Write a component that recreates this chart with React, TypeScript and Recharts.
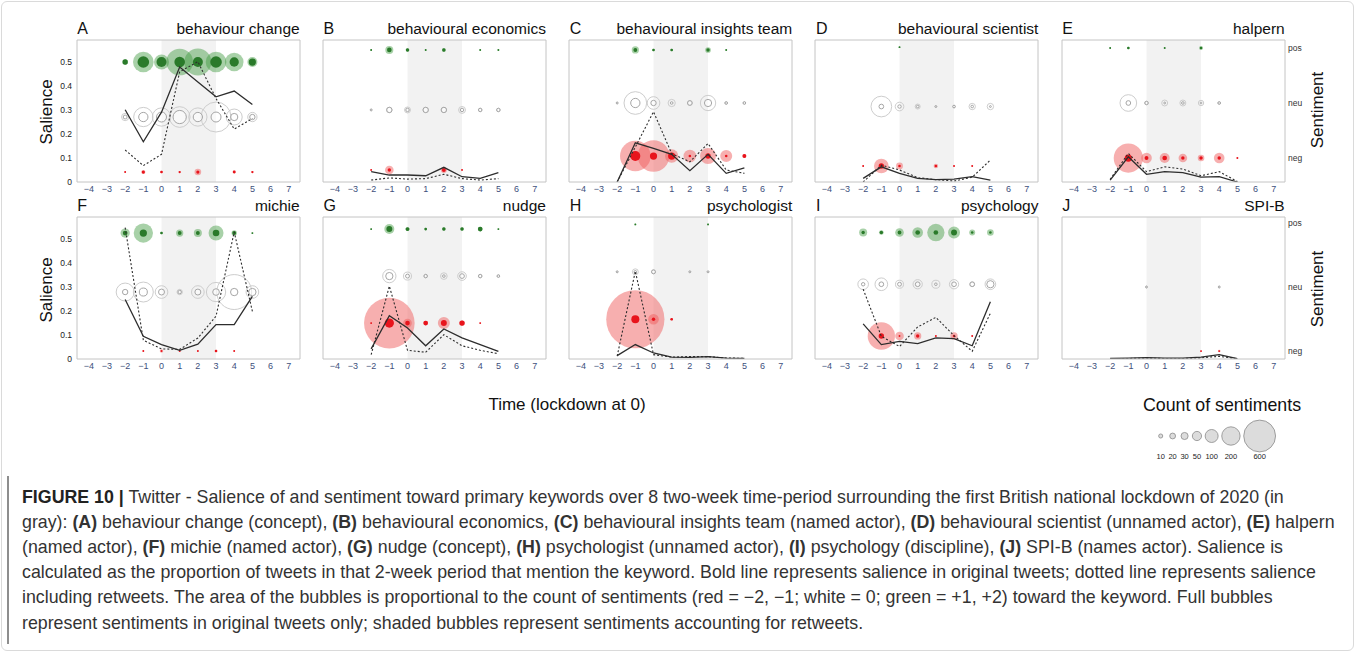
import React from "react";
import { ComposedChart, Line, Scatter, XAxis, YAxis, ZAxis, ReferenceArea } from "recharts";

const FONT = '"Liberation Sans", Arial, Helvetica, sans-serif';

// two-week periods around the lockdown (0 = lockdown)
const periods = [-2, -1, 0, 1, 2, 3, 4, 5];
const xTicks = [-4, -3, -2, -1, 0, 1, 2, 3, 4, 5, 6, 7];
const salienceTicks = [0, 0.1, 0.2, 0.3, 0.4, 0.5];
const sentimentTicks = [0, 1, 2];
const sentimentLabels = ["neg", "neu", "pos"];
const lockdownSpan = [0, 3];
const legendCounts = [10, 20, 30, 50, 100, 200, 600];

const panelLetters = ["A", "B", "C", "D", "E", "F", "G", "H", "I", "J"];
const panelTitles = [
  "behaviour change",
  "behavioural economics",
  "behavioural insights team",
  "behavioural scientist",
  "halpern",
  "michie",
  "nudge",
  "psychologist",
  "psychology",
  "SPI-B",
];

// salience, original tweets (bold line)
const salienceOriginal = [
  [0.3, 0.167, 0.29, 0.478, 0.416, 0.354, 0.378, 0.322],
  [0.043, 0.029, 0.029, 0.026, 0.061, 0.022, 0.015, 0.039],
  [0.0, 0.163, 0.14, 0.115, 0.047, 0.115, 0.036, 0.059],
  [0.015, 0.063, 0.036, 0.015, 0.01, 0.012, 0.022, 0.008],
  [0.008, 0.105, 0.032, 0.043, 0.039, 0.02, 0.022, 0.0],
  [0.247, 0.094, 0.06, 0.036, 0.062, 0.143, 0.143, 0.26],
  [0.042, 0.18, 0.129, 0.055, 0.125, 0.0875, 0.06, 0.032],
  [0.014, 0.06, 0.025, 0.008, 0.007, 0.01, 0.004, 0.003],
  [0.146, 0.06, 0.073, 0.064, 0.0875, 0.085, 0.055, 0.2375],
  [0.002, 0.004, 0.006, 0.004, 0.004, 0.008, 0.018, 0.001],
];

// salience including retweets (dotted line)
const salienceRetweets = [
  [0.133, 0.068, 0.115, 0.458, 0.5, 0.347, 0.22, 0.264],
  [0.008, 0.017, 0.012, 0.014, 0.032, 0.014, 0.008, 0.014],
  [0.0, 0.145, 0.292, 0.118, 0.084, 0.16, 0.05, 0.036],
  [0.0, 0.07, 0.05, 0.018, 0.01, 0.004, 0.02, 0.091],
  [0.011, 0.119, 0.043, 0.063, 0.054, 0.026, 0.043, 0.002],
  [0.546, 0.078, 0.042, 0.04, 0.087, 0.178, 0.528, 0.198],
  [0.018, 0.303, 0.036, 0.028, 0.101, 0.055, 0.036, 0.022],
  [0.012, 0.365, 0.018, 0.008, 0.01, 0.01, 0.004, 0.003],
  [0.29, 0.094, 0.052, 0.133, 0.173, 0.097, 0.032, 0.19],
  [0.001, 0.002, 0.004, 0.002, 0.002, 0.005, 0.011, 0.001],
];

// sentiment counts, original tweets only (full bubbles)
const posOriginal = [
  [17, 80, 59, 67, 59, 80, 51, 31],
  [2, 13, 7, 2, 7, 0, 2, 2],
  [0, 9, 4, 4, 0, 7, 2, 0],
  [0, 0, 2, 0, 0, 0, 0, 0],
  [2, 4, 0, 2, 0, 4, 0, 0],
  [13, 31, 4, 9, 9, 26, 9, 2],
  [2, 21, 9, 4, 7, 7, 13, 2],
  [0, 2, 0, 0, 0, 2, 0, 0],
  [7, 7, 9, 13, 13, 21, 4, 4],
  [0, 0, 0, 0, 0, 0, 0, 0],
];
const neuOriginal = [
  [9, 51, 59, 104, 51, 59, 31, 17],
  [2, 17, 7, 17, 17, 7, 7, 7],
  [2, 51, 17, 4, 13, 31, 4, 4],
  [0, 13, 7, 4, 2, 4, 4, 2],
  [0, 13, 7, 2, 4, 2, 4, 0],
  [17, 38, 21, 7, 21, 26, 32, 32],
  [0, 31, 9, 7, 4, 13, 7, 4],
  [2, 4, 9, 0, 2, 2, 0, 0],
  [7, 13, 9, 13, 4, 13, 13, 31],
  [0, 0, 2, 0, 0, 0, 2, 0],
];
const negOriginal = [
  [2, 6, 4, 3, 6, 0, 5, 3],
  [2, 7, 0, 0, 9, 2, 0, 0],
  [0, 59, 31, 31, 4, 17, 4, 9],
  [2, 17, 4, 0, 4, 2, 2, 0],
  [0, 31, 9, 13, 7, 7, 7, 2],
  [0, 2, 2, 2, 2, 4, 2, 0],
  [2, 51, 13, 13, 21, 17, 2, 0],
  [0, 38, 7, 4, 0, 0, 0, 0],
  [0, 17, 2, 7, 2, 4, 2, 0],
  [0, 0, 0, 0, 0, 2, 2, 0],
];

// sentiment counts accounting for retweets (shaded bubbles)
const posRetweets = [
  [17, 253, 133, 420, 430, 253, 206, 59],
  [2, 38, 7, 2, 9, 0, 2, 2],
  [0, 31, 4, 4, 0, 19, 2, 0],
  [0, 0, 2, 0, 0, 0, 0, 0],
  [2, 4, 0, 2, 0, 9, 0, 0],
  [51, 220, 4, 31, 38, 133, 17, 2],
  [2, 59, 9, 4, 7, 7, 13, 2],
  [0, 2, 0, 0, 0, 2, 0, 0],
  [38, 13, 44, 67, 177, 85, 21, 26],
  [0, 0, 0, 0, 0, 0, 0, 0],
];
const neuRetweets = [
  [31, 220, 198, 253, 198, 531, 151, 51],
  [2, 17, 21, 17, 17, 28, 7, 7],
  [2, 304, 95, 31, 13, 139, 4, 4],
  [0, 253, 44, 15, 2, 4, 24, 24],
  [0, 164, 7, 21, 21, 17, 4, 0],
  [191, 236, 95, 17, 95, 220, 723, 95],
  [0, 105, 38, 7, 26, 44, 7, 4],
  [2, 21, 9, 0, 2, 2, 0, 0],
  [67, 95, 38, 51, 38, 51, 13, 67],
  [0, 0, 2, 0, 0, 0, 2, 0],
];
const negRetweets = [
  [2, 10, 4, 3, 26, 0, 5, 3],
  [2, 44, 0, 0, 21, 2, 0, 0],
  [0, 556, 592, 105, 95, 151, 85, 9],
  [2, 127, 28, 0, 12, 2, 2, 0],
  [0, 507, 67, 59, 44, 26, 67, 2],
  [0, 2, 7, 2, 2, 4, 2, 0],
  [2, 1515, 44, 13, 85, 17, 2, 0],
  [0, 2007, 67, 4, 0, 0, 0, 0],
  [0, 441, 44, 31, 2, 31, 2, 0],
  [0, 0, 0, 0, 0, 2, 4, 0],
];

// range of the sentiment (twin) axis in each panel
const sentimentDomains: [number, number][] = [
  [-0.181, 2.4],
  [-0.201, 2.166],
  [-0.49, 2.188],
  [-0.27, 2.12],
  [-0.436, 2.145],
  [-0.135, 2.272],
  [-0.764, 2.257],
  [-0.838, 2.156],
  [-0.445, 2.3],
  [-0.124, 2.093],
];

const X_DOMAIN: [number, number] = [-4.65, 7.62];
const Y_DOMAIN: [number, number] = [0, 0.59];
// bubble area: ~1.33 px² per tweet
const Z_DOMAIN: [number, number] = [0, 3000];
const Z_RANGE: [number, number] = [0, 3981];

const PLOT_W = 223;
const PLOT_H = 142;
const AXIS_W = 30;
const COL_STEP = 246.25;
const FIRST_LEFT = 76.7;
const ROW_TOPS = [40, 217.3];

const minus = (v: number) => (v < 0 ? "\u2212" + Math.abs(v) : String(v));

function bubbles(table: number[][], i: number, s: number) {
  return periods
    .map((x, k) => ({ x, s, c: table[i][k] }))
    .filter((p) => p.c > 0);
}

function Panel({ i }: { i: number }) {
  const row = Math.floor(i / 5);
  const col = i % 5;
  const plotLeft = FIRST_LEFT + col * COL_STEP;
  const plotTop = ROW_TOPS[row];
  const showLeft = col === 0;
  const showRight = col === 4;

  const lineRows = periods.map((x, k) => ({
    x,
    solid: salienceOriginal[i][k],
    dotted: salienceRetweets[i][k],
  }));

  return (
    <>
      <div
        style={{
          position: "absolute",
          left: plotLeft + 0.5,
          top: plotTop - 19,
          fontSize: 16,
          lineHeight: "16px",
          color: "#111",
        }}
      >
        {panelLetters[i]}
      </div>
      <div
        style={{
          position: "absolute",
          left: plotLeft - 40,
          width: PLOT_W + 40,
          top: plotTop - 19,
          fontSize: 15.5,
          lineHeight: "16px",
          textAlign: "right",
          color: "#111",
          whiteSpace: "nowrap",
        }}
      >
        {panelTitles[i]}
      </div>
      <div style={{ position: "absolute", left: plotLeft - AXIS_W, top: plotTop - 2 }}>
        <ComposedChart
          width={PLOT_W + AXIS_W * 2}
          height={PLOT_H + 18}
          margin={{ top: 2, right: 0, bottom: 0, left: 0 }}
        >
          <XAxis
            dataKey="x"
            type="number"
            domain={X_DOMAIN}
            allowDataOverflow
            ticks={xTicks}
            interval={0}
            tickFormatter={minus}
            tick={{ fontSize: 9, fill: "#3e4f7c", fontFamily: FONT }}
            tickLine={false}
            axisLine={false}
            tickSize={0}
            tickMargin={4}
            height={16}
          />
          <YAxis
            yAxisId="sal"
            type="number"
            domain={Y_DOMAIN}
            allowDataOverflow
            ticks={salienceTicks}
            interval={0}
            tickFormatter={(v: number) => (v === 0 ? "0" : v.toFixed(1))}
            tick={showLeft ? { fontSize: 8.5, fill: "#222", fontFamily: FONT } : false}
            tickLine={false}
            axisLine={false}
            tickSize={0}
            tickMargin={5}
            width={AXIS_W}
          />
          <YAxis
            yAxisId="sent"
            orientation="right"
            dataKey="s"
            type="number"
            domain={sentimentDomains[i]}
            allowDataOverflow
            ticks={sentimentTicks}
            interval={0}
            tickFormatter={(v: number) => sentimentLabels[v]}
            tick={showRight ? { fontSize: 8.5, fill: "#333", fontFamily: FONT, textAnchor: "start" } : false}
            tickLine={false}
            axisLine={false}
            tickSize={0}
            tickMargin={3}
            width={AXIS_W}
          />
          <ZAxis dataKey="c" type="number" domain={Z_DOMAIN} range={Z_RANGE} />

          <ReferenceArea
            yAxisId="sal"
            x1={lockdownSpan[0]}
            x2={lockdownSpan[1]}
            y1={Y_DOMAIN[0]}
            y2={Y_DOMAIN[1]}
            fill="#f2f2f2"
            fillOpacity={1}
            stroke="none"
            zIndex={-10}
          />

          <Scatter yAxisId="sent" data={bubbles(posRetweets, i, 2)} fill="#3d9a3d" fillOpacity={0.45} isAnimationActive={false} />
          <Scatter yAxisId="sent" data={bubbles(posOriginal, i, 2)} fill="#2a7a2a" isAnimationActive={false} />
          <Scatter yAxisId="sent" data={bubbles(neuRetweets, i, 1)} fill="none" stroke="#cdcdcd" strokeWidth={1} isAnimationActive={false} />
          <Scatter yAxisId="sent" data={bubbles(neuOriginal, i, 1)} fill="#ffffff" fillOpacity={0.5} stroke="#a6a6a6" strokeWidth={1} isAnimationActive={false} />
          <Scatter yAxisId="sent" data={bubbles(negRetweets, i, 0)} fill="#f06060" fillOpacity={0.5} isAnimationActive={false} />
          <Scatter yAxisId="sent" data={bubbles(negOriginal, i, 0)} fill="#e8141c" isAnimationActive={false} />

          <Line
            yAxisId="sal"
            data={lineRows}
            dataKey="solid"
            type="linear"
            stroke="#2d2d2d"
            strokeWidth={1.3}
            dot={false}
            isAnimationActive={false}
            zIndex={700}
          />
          <Line
            yAxisId="sal"
            data={lineRows}
            dataKey="dotted"
            type="linear"
            stroke="#2d2d2d"
            strokeWidth={1.1}
            strokeDasharray="2 2"
            dot={false}
            isAnimationActive={false}
            zIndex={700}
          />

          <ReferenceArea
            yAxisId="sal"
            x1={X_DOMAIN[0]}
            x2={X_DOMAIN[1]}
            y1={Y_DOMAIN[0]}
            y2={Y_DOMAIN[1]}
            fill="none"
            stroke="#c4c4c4"
            strokeWidth={1}
            zIndex={800}
          />
        </ComposedChart>
      </div>
    </>
  );
}

function SizeLegend() {
  const labelSize = 7.5;
  const rOf = (c: number) => Math.sqrt((c * Z_RANGE[1]) / Z_DOMAIN[1] / Math.PI);
  // each legend column is as wide as its circle or its label, whichever is wider
  const cols = legendCounts.map((c) => {
    const r = rOf(c);
    const w = Math.max(2 * r, String(c).length * labelSize * 0.556);
    return { c, r, w };
  });
  let prev: { cx: number; w: number } | null = null;
  const items = cols.map((col) => {
    const cx: number = prev ? prev.cx + (prev.w + col.w) / 2 + 3.6 : 1160.7;
    prev = { cx, w: col.w };
    return { ...col, cx };
  });
  return (
    <svg style={{ position: "absolute", left: 0, top: 0 }} width={1355} height={470}>
      {items.map((it) => (
        <g key={it.c}>
          <circle cx={it.cx} cy={436} r={it.r} fill="#dcdcdc" stroke="#8a8a8a" strokeWidth={0.8} />
          <text x={it.cx} y={459} fontSize={labelSize} textAnchor="middle" fill="#222" fontFamily={FONT}>
            {it.c}
          </text>
        </g>
      ))}
    </svg>
  );
}

const rotated = (left: number, top: number): React.CSSProperties => ({
  position: "absolute",
  left,
  top,
  transform: "translate(-50%, -50%) rotate(-90deg)",
  fontSize: 17,
  color: "#111",
  whiteSpace: "nowrap",
});

export default function App() {
  return (
    <div
      style={{
        position: "absolute",
        left: 0,
        top: 0,
        width: 1355,
        height: 652,
        background: "#fff",
        overflow: "hidden",
        fontFamily: FONT,
      }}
    >
      <div
        style={{
          position: "absolute",
          left: 1,
          top: 1,
          width: 1351,
          height: 648,
          border: "1px solid #dadada",
          borderRadius: 6,
        }}
      />
      {panelLetters.map((_, i) => (
        <Panel key={i} i={i} />
      ))}

      <div style={rotated(47, 112)}>Salience</div>
      <div style={rotated(47, 290)}>Salience</div>
      <div style={rotated(1318, 110)}>Sentiment</div>
      <div style={rotated(1318, 289)}>Sentiment</div>

      <div
        style={{ position: "absolute", left: 567, top: 405, transform: "translate(-50%, -50%)", fontSize: 17, color: "#111", whiteSpace: "nowrap" }}
      >
        Time (lockdown at 0)
      </div>
      <div
        style={{ position: "absolute", left: 1222, top: 405, transform: "translate(-50%, -50%)", fontSize: 17.8, color: "#111", whiteSpace: "nowrap" }}
      >
        Count of sentiments
      </div>
      <SizeLegend />

      <div style={{ position: "absolute", left: 7, top: 476, width: 2, height: 168, background: "#8e8e8e" }} />
      <div
        style={{
          position: "absolute",
          left: 22,
          top: 484.5,
          fontSize: 17.8,
          lineHeight: "25.2px",
          color: "#333",
          whiteSpace: "nowrap",
        }}
      >
        <b style={{ color: "#222" }}>FIGURE 10 |</b> Twitter - Salience of and sentiment toward primary keywords over 8 two-week time-period surrounding the first British national lockdown of 2020 (in
        <br />
        gray): <b>(A)</b> behaviour change (concept), <b>(B)</b> behavioural economics, <b>(C)</b> behavioural insights team (named actor), <b>(D)</b> behavioural scientist (unnamed actor), <b>(E)</b> halpern
        <br />
        (named actor), <b>(F)</b> michie (named actor), <b>(G)</b> nudge (concept), <b>(H)</b> psychologist (unnamed actor), <b>(I)</b> psychology (discipline), <b>(J)</b> SPI-B (names actor). Salience is
        <br />
        calculated as the proportion of tweets in that 2-week period that mention the keyword. Bold line represents salience in original tweets; dotted line represents salience
        <br />
        including retweets. The area of the bubbles is proportional to the count of sentiments (red = {"\u2212"}2, {"\u2212"}1; white = 0; green = +1, +2) toward the keyword. Full bubbles
        <br />
        represent sentiments in original tweets only; shaded bubbles represent sentiments accounting for retweets.
      </div>
    </div>
  );
}
